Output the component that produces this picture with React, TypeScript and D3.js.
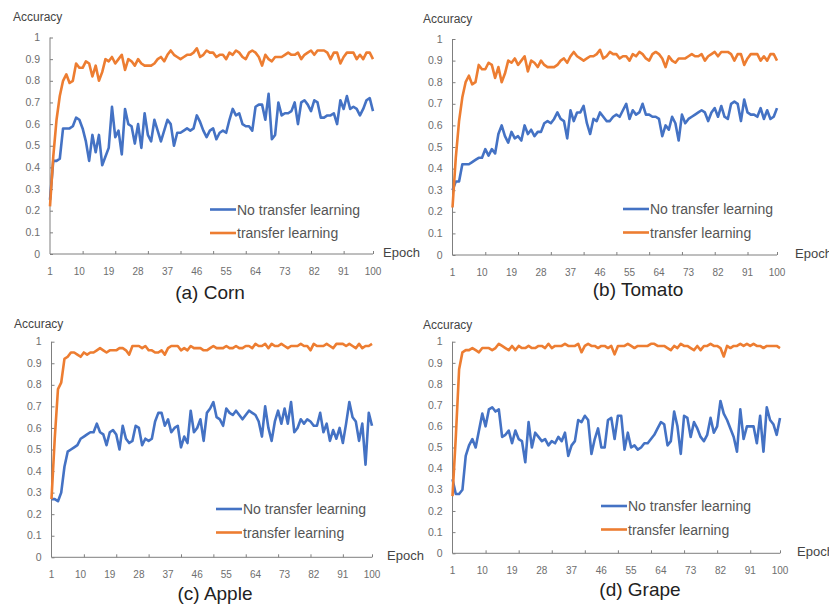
import { useEffect, useRef } from 'react';
import * as d3 from 'd3';

// accuracy per epoch (1..100)
const cornNoTransfer = [
  0.25, 0.43, 0.43, 0.44, 0.58, 0.58, 0.58, 0.59, 0.63, 0.62,
  0.58, 0.52, 0.43, 0.55, 0.47, 0.55, 0.41, 0.45, 0.49, 0.68,
  0.54, 0.57, 0.46, 0.67, 0.60, 0.59, 0.51, 0.60, 0.49, 0.65,
  0.55, 0.52, 0.62, 0.57, 0.52, 0.57, 0.62, 0.60, 0.50, 0.56,
  0.56, 0.57, 0.58, 0.57, 0.58, 0.64, 0.61, 0.57, 0.54, 0.57,
  0.58, 0.53, 0.56, 0.57, 0.56, 0.62, 0.67, 0.64, 0.65, 0.60,
  0.59, 0.59, 0.57, 0.68, 0.69, 0.69, 0.62, 0.74, 0.53, 0.55,
  0.70, 0.64, 0.65, 0.65, 0.66, 0.70, 0.60, 0.70, 0.71, 0.69,
  0.66, 0.71, 0.70, 0.63, 0.63, 0.64, 0.64, 0.65, 0.60, 0.71,
  0.67, 0.73, 0.67, 0.68, 0.67, 0.64, 0.67, 0.71, 0.72, 0.66,
];
const cornTransfer = [
  0.22, 0.45, 0.62, 0.73, 0.80, 0.83, 0.79, 0.80, 0.88, 0.86,
  0.86, 0.89, 0.88, 0.82, 0.87, 0.80, 0.84, 0.90, 0.89, 0.91,
  0.88, 0.90, 0.92, 0.85, 0.90, 0.89, 0.87, 0.90, 0.88, 0.87,
  0.87, 0.87, 0.88, 0.90, 0.91, 0.89, 0.92, 0.94, 0.92, 0.91,
  0.90, 0.91, 0.92, 0.92, 0.93, 0.95, 0.91, 0.92, 0.94, 0.93,
  0.93, 0.91, 0.92, 0.92, 0.90, 0.93, 0.92, 0.94, 0.93, 0.91,
  0.90, 0.93, 0.94, 0.93, 0.91, 0.87, 0.92, 0.90, 0.89, 0.91,
  0.91, 0.91, 0.92, 0.93, 0.92, 0.92, 0.93, 0.90, 0.92, 0.93,
  0.94, 0.92, 0.94, 0.94, 0.94, 0.93, 0.90, 0.93, 0.93, 0.88,
  0.91, 0.93, 0.93, 0.93, 0.90, 0.92, 0.90, 0.93, 0.93, 0.90,
];
const tomatoNoTransfer = [
  0.30, 0.34, 0.34, 0.42, 0.42, 0.42, 0.43, 0.44, 0.45, 0.45,
  0.49, 0.46, 0.49, 0.47, 0.56, 0.60, 0.55, 0.52, 0.57, 0.54,
  0.55, 0.53, 0.60, 0.56, 0.58, 0.55, 0.57, 0.57, 0.61, 0.62,
  0.61, 0.63, 0.66, 0.63, 0.62, 0.54, 0.67, 0.62, 0.66, 0.66,
  0.69, 0.61, 0.56, 0.63, 0.62, 0.66, 0.64, 0.62, 0.62, 0.64,
  0.65, 0.64, 0.67, 0.70, 0.63, 0.67, 0.65, 0.66, 0.70, 0.65,
  0.65, 0.64, 0.64, 0.63, 0.55, 0.60, 0.58, 0.64, 0.61, 0.53,
  0.65, 0.61, 0.63, 0.64, 0.65, 0.66, 0.67, 0.66, 0.62, 0.66,
  0.68, 0.64, 0.69, 0.64, 0.63, 0.70, 0.71, 0.70, 0.62, 0.72,
  0.66, 0.65, 0.65, 0.64, 0.68, 0.63, 0.67, 0.63, 0.64, 0.68,
];
const tomatoTransfer = [
  0.22, 0.45, 0.62, 0.73, 0.80, 0.83, 0.79, 0.80, 0.88, 0.86,
  0.86, 0.89, 0.88, 0.82, 0.87, 0.80, 0.84, 0.90, 0.89, 0.91,
  0.88, 0.90, 0.92, 0.85, 0.90, 0.89, 0.87, 0.90, 0.88, 0.87,
  0.87, 0.87, 0.88, 0.90, 0.91, 0.89, 0.92, 0.94, 0.92, 0.91,
  0.90, 0.91, 0.92, 0.92, 0.93, 0.95, 0.91, 0.92, 0.94, 0.93,
  0.93, 0.91, 0.92, 0.92, 0.90, 0.93, 0.92, 0.94, 0.93, 0.91,
  0.90, 0.93, 0.94, 0.93, 0.91, 0.87, 0.92, 0.90, 0.89, 0.91,
  0.91, 0.91, 0.92, 0.93, 0.92, 0.92, 0.93, 0.90, 0.92, 0.93,
  0.94, 0.92, 0.94, 0.94, 0.94, 0.93, 0.90, 0.93, 0.93, 0.88,
  0.91, 0.93, 0.93, 0.93, 0.90, 0.92, 0.90, 0.93, 0.93, 0.90,
];
const appleNoTransfer = [
  0.27, 0.27, 0.26, 0.30, 0.42, 0.49, 0.50, 0.51, 0.52, 0.55,
  0.56, 0.57, 0.58, 0.58, 0.62, 0.58, 0.57, 0.52, 0.58, 0.59,
  0.57, 0.50, 0.61, 0.55, 0.53, 0.54, 0.61, 0.60, 0.52, 0.55,
  0.54, 0.55, 0.63, 0.67, 0.67, 0.61, 0.64, 0.58, 0.60, 0.61,
  0.51, 0.56, 0.53, 0.68, 0.58, 0.60, 0.64, 0.54, 0.67, 0.69,
  0.72, 0.65, 0.64, 0.61, 0.69, 0.67, 0.66, 0.68, 0.66, 0.64,
  0.66, 0.68, 0.67, 0.66, 0.63, 0.56, 0.70, 0.60, 0.54, 0.63,
  0.68, 0.62, 0.69, 0.62, 0.72, 0.58, 0.60, 0.64, 0.62, 0.64,
  0.63, 0.61, 0.61, 0.67, 0.58, 0.62, 0.54, 0.59, 0.55, 0.60,
  0.53, 0.62, 0.72, 0.65, 0.63, 0.54, 0.62, 0.43, 0.67, 0.61,
];
const appleTransfer = [
  0.27, 0.55, 0.78, 0.81, 0.92, 0.93, 0.95, 0.95, 0.94, 0.93,
  0.95, 0.94, 0.95, 0.95, 0.96, 0.97, 0.96, 0.95, 0.96, 0.96,
  0.96, 0.97, 0.97, 0.96, 0.94, 0.98, 0.98, 0.98, 0.97, 0.98,
  0.96, 0.96, 0.95, 0.95, 0.96, 0.94, 0.97, 0.98, 0.98, 0.98,
  0.96, 0.97, 0.96, 0.98, 0.97, 0.97, 0.97, 0.96, 0.96, 0.97,
  0.98, 0.97, 0.97, 0.97, 0.98, 0.97, 0.97, 0.98, 0.97, 0.97,
  0.98, 0.98, 0.97, 0.99, 0.98, 0.98, 0.99, 0.97, 0.99, 0.98,
  0.98, 0.99, 0.98, 0.97, 0.98, 0.98, 0.98, 0.99, 0.98, 0.98,
  0.96, 0.99, 0.98, 0.98, 0.98, 0.99, 0.98, 0.97, 0.99, 0.99,
  0.99, 0.98, 0.99, 0.98, 0.97, 0.99, 0.97, 0.98, 0.98, 0.99,
];
const grapeNoTransfer = [
  0.35, 0.28, 0.28, 0.30, 0.46, 0.51, 0.54, 0.50, 0.58, 0.66,
  0.60, 0.68, 0.69, 0.67, 0.68, 0.55, 0.56, 0.58, 0.52, 0.58,
  0.54, 0.53, 0.43, 0.62, 0.50, 0.57, 0.55, 0.53, 0.54, 0.51,
  0.53, 0.52, 0.55, 0.53, 0.57, 0.46, 0.51, 0.53, 0.63, 0.62,
  0.65, 0.63, 0.47, 0.54, 0.59, 0.50, 0.50, 0.63, 0.64, 0.54,
  0.65, 0.65, 0.49, 0.57, 0.50, 0.51, 0.49, 0.50, 0.52, 0.52,
  0.54, 0.56, 0.59, 0.62, 0.61, 0.51, 0.53, 0.67, 0.60, 0.47,
  0.65, 0.64, 0.55, 0.62, 0.59, 0.55, 0.53, 0.56, 0.64, 0.57,
  0.60, 0.72, 0.66, 0.63, 0.59, 0.55, 0.48, 0.68, 0.54, 0.60,
  0.60, 0.60, 0.52, 0.65, 0.48, 0.69, 0.63, 0.61, 0.56, 0.64,
];
const grapeTransfer = [
  0.27, 0.55, 0.87, 0.95, 0.96, 0.96, 0.97, 0.96, 0.95, 0.97,
  0.97, 0.97, 0.96, 0.97, 0.99, 0.98, 0.97, 0.96, 0.98, 0.96,
  0.98, 0.97, 0.97, 0.98, 0.97, 0.97, 0.98, 0.98, 0.97, 0.99,
  0.97, 0.98, 0.98, 0.98, 0.99, 0.98, 0.98, 0.98, 0.99, 0.95,
  0.98, 0.99, 0.98, 0.98, 0.97, 0.98, 0.98, 0.97, 0.98, 0.94,
  0.98, 0.98, 0.98, 0.99, 0.98, 0.97, 0.98, 0.98, 0.98, 0.98,
  0.99, 0.99, 0.98, 0.98, 0.98, 0.97, 0.96, 0.98, 0.97, 0.99,
  0.98, 0.98, 0.97, 0.96, 0.98, 0.96, 0.98, 0.98, 0.99, 0.98,
  0.98, 0.97, 0.93, 0.98, 0.97, 0.98, 0.98, 0.99, 0.98, 0.99,
  0.98, 0.99, 0.98, 0.98, 0.97, 0.98, 0.98, 0.98, 0.98, 0.97,
];

const epochLabels = [1, 10, 19, 28, 37, 46, 55, 64, 73, 82, 91, 100];
const epochTickMarks = [11, 21, 31, 41, 51, 61, 71, 81, 91, 100];
const accuracyTicks = [0, 0.1, 0.2, 0.3, 0.4, 0.5, 0.6, 0.7, 0.8, 0.9, 1];
const seriesNames = ['No transfer learning', 'transfer learning'];
const seriesColors = ['#4472C4', '#ED7D31'];

// panel layout in page pixels
const panels = [
  { title: '(a) Corn', data: [cornNoTransfer, cornTransfer],
    x1: 50, x100: 373, yTop: 37.5, yBottom: 254,
    legend: [210, 209.5], acc: [13, 21], epoch: [383, 257], titlePos: [210, 299] },
  { title: '(b) Tomato', data: [tomatoNoTransfer, tomatoTransfer],
    x1: 452.5, x100: 777, yTop: 39, yBottom: 255,
    legend: [623, 209], acc: [423, 23], epoch: [795, 258], titlePos: [638, 296] },
  { title: '(c) Apple', data: [appleNoTransfer, appleTransfer],
    x1: 51.5, x100: 372, yTop: 341.7, yBottom: 557.3,
    legend: [216, 509], acc: [14, 328], epoch: [387, 560], titlePos: [215, 600] },
  { title: '(d) Grape', data: [grapeNoTransfer, grapeTransfer],
    x1: 452.5, x100: 780, yTop: 341.7, yBottom: 553.3,
    legend: [601, 506], acc: [423, 329], epoch: [797, 556], titlePos: [640, 596] },
];

const FONT = '"Liberation Sans", Arial, sans-serif';

export default function App() {
  const svgRef = useRef<SVGSVGElement>(null);

  useEffect(() => {
    if (!svgRef.current) return;
    const svg = d3.select(svgRef.current);
    svg.selectAll('*').remove();

    svg.append('rect').attr('width', 829).attr('height', 608).attr('fill', '#fff');

    panels.forEach(p => {
      const g = svg.append('g');
      const x = d3.scaleLinear().domain([1, 100]).range([p.x1, p.x100]);
      const y = d3.scaleLinear().domain([0, 1]).range([p.yBottom, p.yTop]);

      // y axis
      const yAxis = g.append('g')
        .attr('transform', `translate(${p.x1},0)`)
        .call(d3.axisRight(y).tickValues(accuracyTicks).tickSize(3).tickFormat(() => ''));
      yAxis.select('.domain').attr('stroke', '#7f7f7f').attr('d', `M0,${p.yTop}V${p.yBottom}`);
      yAxis.selectAll('.tick line').attr('stroke', '#7f7f7f');

      g.selectAll('.ylab')
        .data(accuracyTicks)
        .enter().append('text')
        .attr('x', p.x1 - 10)
        .attr('y', d => y(d))
        .attr('dy', '0.35em')
        .attr('text-anchor', 'end')
        .attr('font-family', FONT)
        .attr('font-size', 10.5)
        .attr('fill', '#6e6e6e')
        .text(d => d3.format('~g')(d));

      // x axis
      const xAxis = g.append('g')
        .attr('transform', `translate(0,${p.yBottom})`)
        .call(d3.axisTop(x).tickValues(epochTickMarks).tickSize(3).tickFormat(() => ''));
      xAxis.select('.domain').attr('stroke', '#7f7f7f').attr('d', `M${p.x1},0H${p.x100}`);
      xAxis.selectAll('.tick line').attr('stroke', '#7f7f7f');

      g.selectAll('.xlab')
        .data(epochLabels)
        .enter().append('text')
        .attr('x', d => x(d))
        .attr('y', p.yBottom + 21)
        .attr('text-anchor', 'middle')
        .attr('font-family', FONT)
        .attr('font-size', 10)
        .attr('fill', '#6e6e6e')
        .text(d => d);

      // lines
      const line = d3.line<number>()
        .x((_, i) => x(i + 1))
        .y(d => y(d));

      p.data.forEach((series, si) => {
        g.append('path')
          .datum(series)
          .attr('d', line)
          .attr('fill', 'none')
          .attr('stroke', seriesColors[si])
          .attr('stroke-width', 2.6)
          .attr('stroke-linejoin', 'round');
      });

      // legend
      seriesNames.forEach((name, si) => {
        const ly = p.legend[1] + si * 23.5;
        g.append('line')
          .attr('x1', p.legend[0]).attr('x2', p.legend[0] + 26)
          .attr('y1', ly).attr('y2', ly)
          .attr('stroke', seriesColors[si])
          .attr('stroke-width', 2.6);
        g.append('text')
          .attr('x', p.legend[0] + 27)
          .attr('y', ly + 5)
          .attr('font-family', FONT)
          .attr('font-size', 14)
          .attr('fill', '#555')
          .text(name);
      });

      // labels
      g.append('text')
        .attr('x', p.acc[0]).attr('y', p.acc[1])
        .attr('font-family', FONT).attr('font-size', 12)
        .attr('fill', '#444')
        .text('Accuracy');
      g.append('text')
        .attr('x', p.epoch[0]).attr('y', p.epoch[1])
        .attr('font-family', FONT).attr('font-size', 13)
        .attr('fill', '#444')
        .text('Epoch');
      g.append('text')
        .attr('x', p.titlePos[0]).attr('y', p.titlePos[1])
        .attr('text-anchor', 'middle')
        .attr('font-family', FONT).attr('font-size', 19)
        .attr('fill', '#222')
        .text(p.title);
    });
  }, []);

  return (
    <svg
      ref={svgRef}
      width={829}
      height={608}
      viewBox="0 0 829 608"
      style={{ position: 'absolute', left: 0, top: 0, display: 'block' }}
    />
  );
}
